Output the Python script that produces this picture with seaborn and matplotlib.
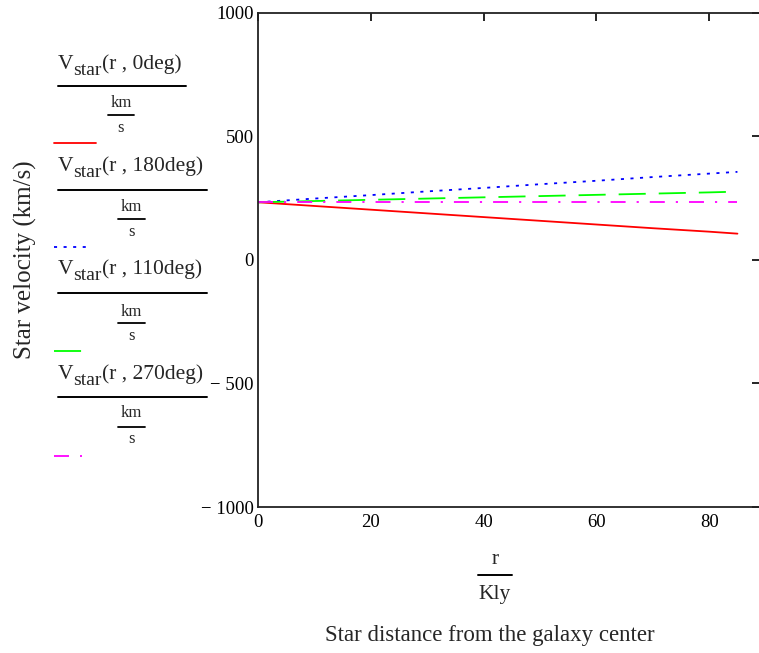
import numpy as np
import pandas as pd
import matplotlib
matplotlib.use("Agg")
import matplotlib.pyplot as plt
from matplotlib.lines import Line2D
import seaborn as sns

# Star velocity (km/s) vs. distance from galaxy center (Kly) for four viewing angles
r_kly = [0, 10, 20, 30, 40, 50, 60, 70, 80, 85]
v_0deg = [233, 218, 203, 188, 173, 158, 143, 128, 114, 106]
v_180deg = [233, 248, 262, 277, 291, 306, 320, 335, 349, 356]
v_110deg = [233, 238, 243, 248, 253, 258, 263, 268, 273, 276]
v_270deg = [233, 233, 233, 233, 233, 233, 233, 233, 233, 233]

angles = ["0deg", "180deg", "110deg", "270deg"]
series = [v_0deg, v_180deg, v_110deg, v_270deg]
colors = ["#ff0000", "#0000ff", "#00ff00", "#ff00ff"]
# dash patterns in units of line width
dashes = [None, (1.7, 3.6), (15, 7.2), (8.3, 6.1, 1.2, 6.1)]

x_ticks = [0, 20, 40, 60, 80]
y_ticks = [-1000, -500, 0, 500, 1000]
y_ticklabels = ["\u2212 1000", "\u2212 500", "0", "500", "1000"]

sns.set_theme(style="white")
plt.rcParams["font.family"] = ["Liberation Serif", "DejaVu Serif"]

df = pd.concat(
    [pd.DataFrame({"r": r_kly, "v": s, "angle": a}) for a, s in zip(angles, series)],
    ignore_index=True,
)

W, H = 759, 653
fig = plt.figure(figsize=(W / 100, H / 100), dpi=100)
fig.patch.set_facecolor("white")
renderer = fig.canvas.get_renderer()

def fx(px):
    return px / W

def fy(py):
    return 1 - py / H

LW = 1.3
ax = fig.add_axes([fx(258), fy(507), fx(760) - fx(258), fy(12.7) - fy(507)])

for a, c, d in zip(angles, colors, dashes):
    sub = df[df["angle"] == a]
    sns.lineplot(data=sub, x="r", y="v", ax=ax, color=c, linewidth=LW,
                 legend=False, estimator=None)
    if d is not None:
        ax.lines[-1].set_dashes(d)

ax.set_xlim(0, 89)
ax.set_ylim(-1000, 1000)
ax.set_xticks(x_ticks)
ax.set_xticklabels([str(t) for t in x_ticks])
ax.set_yticks(y_ticks)
ax.set_yticklabels(y_ticklabels)
ax.set_xlabel("")
ax.set_ylabel("")
ax.tick_params(axis="both", direction="in", length=6, width=1.2, colors="black",
               labelsize=13.5, top=True, right=True, pad=3)
ax.tick_params(axis="x", pad=5)
for sp in ax.spines.values():
    sp.set_color("#222222")
    sp.set_linewidth(1.3)
ax.grid(False)

# x-axis label: r / Kly fraction and caption
fig.text(fx(495), fy(560), "r", ha="center", va="center", fontsize=15.5)
fig.add_artist(Line2D([fx(478), fx(512)], [fy(575), fy(575)], color="black", lw=1.4))
fig.text(fx(495), fy(595), "Kly", ha="center", va="center", fontsize=15.5)
fig.text(fx(490), fy(635), "Star distance from the galaxy center", ha="center",
         va="center", fontsize=16.5)

# y-axis label
fig.text(fx(25), fy(260), "Star velocity (km/s)", ha="center", va="center",
         rotation=90, fontsize=18)


def subscripted_label(x_left, baseline, angle):
    """Draw V_star(r , angle) left-aligned at x_left with its baseline at baseline (px)."""
    pieces = [("V", 15.5, 0), ("star", 14, 6), ("(r , %s)" % angle, 15.5, 0)]
    x = x_left
    for txt, size, drop in pieces:
        t = fig.text(fx(x), fy(baseline + drop), txt, ha="left", va="baseline",
                     fontsize=size)
        x += t.get_window_extent(renderer).width
    return x


# legend entries: V_star(r, angle) / (km/s) with a line sample beneath
legend_rows = [
    # baseline, bar_y, bar_x1, km_y, small_bar_y, s_y, sample_y, sample_x1
    (69, 86, 186, 103, 115, 128, 143, 96),
    (171, 190, 207, 207, 219, 232, 247, 88),
    (274, 293, 207, 312, 323, 336, 351, 82),
    (379, 397, 207, 413, 427, 439, 456, 82),
]
for (bl, by, bx1, ky, sby, sy, smy, smx1), a, c, d in zip(legend_rows, angles, colors, dashes):
    subscripted_label(58, bl, a)
    fig.add_artist(Line2D([fx(58), fx(bx1)], [fy(by), fy(by)], color="black", lw=1.4))
    kcx = (58 + bx1) / 2 - 1
    fig.text(fx(kcx), fy(ky), "km", ha="center", va="center", fontsize=12)
    fig.add_artist(Line2D([fx(kcx - 13), fx(kcx + 13)], [fy(sby), fy(sby)],
                          color="black", lw=1.3))
    fig.text(fx(kcx), fy(sy), "s", ha="center", va="center", fontsize=12)
    sample = Line2D([fx(54), fx(smx1)], [fy(smy), fy(smy)], color=c, lw=LW)
    if d is not None:
        sample.set_dashes(d)
    fig.add_artist(sample)

fig.savefig("out.png", dpi=100, facecolor="white")
